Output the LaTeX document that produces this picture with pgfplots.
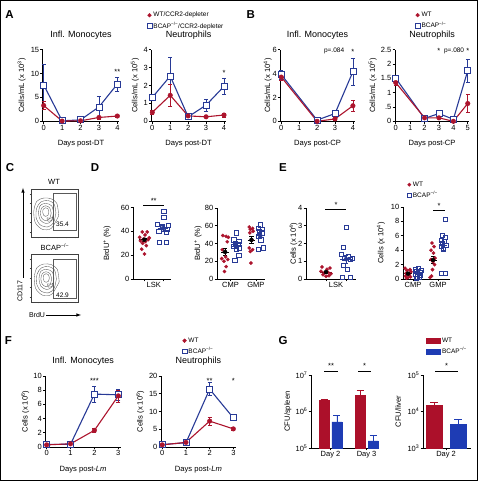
\documentclass[border=0pt]{standalone}
\usepackage{fontspec}
\setmainfont{Liberation Sans}
\usepackage{pgfplots}
\pgfplotsset{compat=1.18}
\definecolor{wtred}{RGB}{172,20,45}
\definecolor{kob}{RGB}{40,58,150}
\definecolor{barred}{RGB}{172,16,42}
\definecolor{barblue}{RGB}{30,60,180}
\newcommand{\ko}{BCAP\textsuperscript{−/−}}
\newcommand{\fs}[1]{\fontsize{#1}{#1}\selectfont}
\pgfplotsset{
  base/.style={scale only axis, anchor=south west, clip=false,
    axis x line*=bottom, axis y line*=left,
    axis line style={-, line width=0.7pt, black},
    tick align=outside, major tick length=2.5pt,
    tick style={line width=0.6pt, black},
    ticklabel style={font=\fs{7.5}, inner sep=1pt},
    /pgf/number format/assume math mode=true,
    title style={font=\fs{9}, at={(0.5,1)}, anchor=south, inner sep=1pt, yshift=3pt},
    every axis x label/.style={at={(axis description cs:0.5,0)}, anchor=center, yshift=-22.5pt, font=\fs{7.6}},
    legend cell align=left,
    legend image code/.code={\draw[mark repeat=2,mark phase=2,##1] plot coordinates {(0pt,0pt)(3pt,0pt)(6pt,0pt)};},
  },
  ylab/.style={every axis y label/.style={at={(axis description cs:#1,0.5)}, rotate=90, anchor=center, font=\fs{7.6}}},
  leg/.style 2 args={legend style={at={(axis description cs:#1,#2)}, anchor=north west, draw=none, fill=none, font=\fs{6.5}, inner sep=0pt, row sep=1pt, nodes={inner sep=1.5pt}}},
  wtl/.style={wtred, line width=1.1pt, mark=*, mark size=2.3pt, mark options={solid, fill=wtred, draw=wtred, line width=0.4pt},
    error bars/.cd, y dir=both, y explicit, error bar style={line width=0.6pt, wtred}, error mark options={rotate=90, mark size=2pt, line width=0.6pt, wtred}},
  kol/.style={kob, line width=1.1pt, mark=square*, mark size=3pt, mark options={solid, fill=white, draw=kob, line width=0.8pt},
    error bars/.cd, y dir=both, y explicit, error bar style={line width=0.6pt, kob}, error mark options={rotate=90, mark size=2pt, line width=0.6pt, kob}},
  wtd/.style={only marks, mark=*, mark size=1.7pt, wtred, mark options={fill=wtred, draw=wtred, line width=0.3pt}},
  kos/.style={only marks, mark=square, mark size=2.1pt, kob, mark options={line width=0.7pt}},
  semk/.style={only marks, mark=none, #1, error bars/.cd, y dir=both, y explicit, error bar style={line width=0.7pt, #1}, error mark options={rotate=90, mark size=2.2pt, line width=0.7pt, #1}},
  meank/.style={#1, line width=0.8pt, mark=none},
  flow/.style={scale only axis, anchor=south west, width=47pt, height=48pt, xmin=0, xmax=10, ymin=0, ymax=10, clip=false,
    axis line style={line width=0.6pt, black!75}, tick align=outside, major tick length=1.5pt,
    tick style={line width=0.4pt, black!75}, xtick={1.5,3.5,5.5,7.5,9.5}, ytick={1,3,5,7,9},
    xticklabels={}, yticklabels={}, tick pos=left},
  cont/.style={gray!70!black, line width=0.35pt, smooth, mark=none},
}
\tikzset{st/.style={font=\fs{7.5}, inner sep=0pt}, lt/.style={font=\bfseries\fs{11.5}}}
\begin{document}
\begin{tikzpicture}[x=1pt,y=1pt]
\useasboundingbox (0,0) rectangle (478,481);
\draw[line width=1pt] (0.5,0.5) rectangle (477.5,480.5);
% panel letters
\node[lt] at (9.5,466) {A};
\node[lt] at (250.7,466) {B};
\node[lt] at (10,313) {C};
\node[lt] at (95,313) {D};
\node[lt] at (283,313) {E};
\node[lt] at (8.5,140) {F};
\node[lt] at (283,140) {G};

% ---------------- A1
\begin{axis}[base, ylab=-0.276, at={(42.8pt,359.7pt)}, width=76.4pt, height=71.7pt,
  xmin=-0.05, xmax=4.1, ymin=0, ymax=15, xtick={0,1,2,3,4}, ytick={0,5,10,15},
  title={Infl. Monocytes}, xlabel={Days post-DT}, ylabel={Cells/mL (x 10\textsuperscript{3})}]
\addplot[kol] coordinates {(0,7.6) +- (0,4.4) (1,0.1) +- (0,0.1) (2,0.3) +- (0,0.2) (3,3.0) +- (0,2.3) (4,7.8) +- (0,1.5)};
\addplot[wtl] coordinates {(0,3.3) +- (0,0.8) (1,0.05) +- (0,0.05) (2,0.1) +- (0,0.1) (3,0.8) +- (0,0.3) (4,1.1) +- (0,0.2)};
\node[st] at (axis cs:4,10.3) {**};
\end{axis}
% ---------------- A2
\begin{axis}[base, ylab=-0.22, at={(151.4pt,359.7pt)}, width=74.4pt, height=71.7pt,
  xmin=-0.05, xmax=4.1, ymin=0, ymax=4, xtick={0,1,2,3,4}, ytick={0,1,2,3,4},
  title={Neutrophils}, xlabel={Days post-DT}, ylabel={Cells/mL (x 10\textsuperscript{5})},
  leg={-0.06}{1.546}]
\addlegendimage{only marks, mark=*, mark size=1.9pt, wtred}
\addlegendimage{only marks, mark=square, mark size=2.4pt, kob, mark options={line width=0.6pt}}
\addplot[kol] coordinates {(0,1.33) +- (0,0.1) (1,2.52) +- (0,1.05) (2,0.25) +- (0,0.05) (3,0.9) +- (0,0.35) (4,1.95) +- (0,0.45)};
\addplot[wtl] coordinates {(0,0.5) +- (0,0.1) (1,1.45) +- (0,0.6) (2,0.3) +- (0,0.05) (3,0.25) +- (0,0.05) (4,0.35) +- (0,0.1)};
\node[st] at (axis cs:4,2.7) {*};
\legend{WT/CCR2-depleter, \ko/CCR2-depleter}
\end{axis}
% ---------------- B1
\begin{axis}[base, ylab=-0.17, at={(280.4pt,359.7pt)}, width=74.3pt, height=71.7pt,
  xmin=-0.05, xmax=4.1, ymin=0, ymax=6, xtick={0,1,2,3,4}, ytick={0,2,4,6},
  title={Infl. Monocytes}, xlabel={Days post-CP}, ylabel={Cells/mL (x 10\textsuperscript{4})}]
\addplot[kol] coordinates {(0,3.9) +- (0,0.4) (2,0.1) +- (0,0.1) (3,0.65) +- (0,0.1) (4,4.15) +- (0,1.15)};
\addplot[wtl] coordinates {(0,3.7) +- (0,0.3) (2,0.0) +- (0,0.05) (3,0.2) +- (0,0.1) (4,1.3) +- (0,0.45)};
\node[font=\fs{6.5}, inner sep=0pt] at (axis cs:2.95,5.9) {p=.084};
\node[st] at (axis cs:4,5.8) {*};
\end{axis}
% ---------------- B2
\begin{axis}[base, ylab=-0.30, at={(395pt,359.7pt)}, width=74.2pt, height=71.7pt,
  xmin=-0.05, xmax=5.1, ymin=0, ymax=2.5, xtick={0,1,2,3,4,5}, ytick={0,0.5,1,1.5,2,2.5},
  yticklabels={0,.5,1,1.5,2,2.5},
  title={Neutrophils}, xlabel={Days post-CP}, ylabel={Cells/mL (x 10\textsuperscript{5})},
  leg={0.27}{1.546}]
\addlegendimage{only marks, mark=*, mark size=1.9pt, wtred}
\addlegendimage{only marks, mark=square, mark size=2.4pt, kob, mark options={line width=0.6pt}}
\addplot[kol] coordinates {(0,1.5) +- (0,0.1) (2,0.1) +- (0,0.03) (3,0.27) +- (0,0.05) (4,0.07) +- (0,0.03) (5,1.77) +- (0,0.4)};
\addplot[wtl] coordinates {(0,1.35) +- (0,0.08) (2,0.12) +- (0,0.03) (3,0.12) +- (0,0.03) (4,0.0) +- (0,0.02) (5,0.62) +- (0,0.32)};
\node[st] at (axis cs:3,2.45) {*};
\node[font=\fs{6.5}, inner sep=0pt] at (axis cs:4.05,2.47) {p=.080};
\node[st] at (axis cs:5,2.45) {*};
\legend{WT, \ko}
\end{axis}

% ---------------- C (flow plots)
\node[font=\fs{7.5}] at (54,299) {WT};
\node[font=\fs{7.5}] at (55,234) {\ko};
\begin{axis}[flow, at={(31pt,244pt)}]
\addplot[cont] coordinates {(5.9,4.4)(5.5,7.0)(4.2,8.0)(2.6,8.1)(1.2,7.4)(0.6,5.4)(0.9,3.0)(2.4,1.6)(4.3,1.8)(5.9,4.4)};
\addplot[cont] coordinates {(5.3,5.0)(4.9,6.9)(3.6,7.6)(2.1,7.3)(1.2,6.0)(1.1,4.0)(2.0,2.5)(3.6,2.1)(4.8,3.0)(5.3,5.0)};
\addplot[cont] coordinates {(4.8,5.1)(4.4,6.5)(3.2,7.0)(2.0,6.6)(1.6,5.0)(2.0,3.5)(3.2,2.8)(4.3,3.3)(4.8,5.1)};
\addplot[cont] coordinates {(4.3,5.0)(3.95,6.1)(3.1,6.5)(2.3,6.1)(2.0,5.0)(2.3,3.9)(3.1,3.4)(3.95,3.8)(4.3,5.0)};
\addplot[cont] coordinates {(3.8,5.2)(3.6,5.9)(3.1,6.1)(2.6,5.8)(2.5,5.1)(2.7,4.5)(3.1,4.3)(3.6,4.5)(3.8,5.2)};
\addplot[cont] coordinates {(3.4,4.0)(4.2,3.9)(4.6,4.1)(4.5,3.5)(3.6,3.3)(3.4,4.0)};
\addplot[gray!70!black, line width=0.45pt, mark=none] coordinates {(4.68,1.46)(9.57,1.46)(9.57,9.17)(4.68,9.17)(4.68,1.46)};
\node[font=\fs{6.5}] at (axis cs:6.7,2.7) {35.4};
\end{axis}
\begin{axis}[flow, at={(31pt,179pt)}]
\addplot[cont] coordinates {(6.0,4.2)(5.6,6.8)(4.3,7.8)(2.7,7.9)(1.3,7.2)(0.7,5.2)(1.0,2.8)(2.5,1.4)(4.4,1.6)(6.0,4.2)};
\addplot[cont] coordinates {(5.4,4.8)(5.0,6.7)(3.7,7.4)(2.2,7.1)(1.3,5.8)(1.2,3.8)(2.1,2.3)(3.7,1.9)(4.9,2.8)(5.4,4.8)};
\addplot[cont] coordinates {(4.9,4.9)(4.5,6.3)(3.3,6.8)(2.1,6.4)(1.7,4.8)(2.1,3.3)(3.3,2.6)(4.4,3.1)(4.9,4.9)};
\addplot[cont] coordinates {(4.4,4.8)(4.05,5.9)(3.2,6.3)(2.4,5.9)(2.1,4.8)(2.4,3.7)(3.2,3.2)(4.05,3.6)(4.4,4.8)};
\addplot[cont] coordinates {(3.9,5.0)(3.7,5.7)(3.2,5.9)(2.7,5.6)(2.6,4.9)(2.8,4.3)(3.2,4.1)(3.7,4.3)(3.9,5.0)};
\addplot[cont] coordinates {(3.5,3.8)(4.3,3.7)(4.7,3.9)(4.6,3.3)(3.7,3.1)(3.5,3.8)};
\addplot[gray!70!black, line width=0.45pt, mark=none] coordinates {(4.68,0.83)(9.57,0.83)(9.57,8.96)(4.68,8.96)(4.68,0.83)};
\node[font=\fs{6.5}] at (axis cs:6.7,1.5) {42.9};
\end{axis}
\draw[line width=0.6pt, -latex] (23,203) -- (23,293);
\node[font=\fs{7}, rotate=90] at (20,190) {CD117};
\node[font=\fs{7}] at (37,166) {BrdU};
\draw[line width=0.6pt, -latex] (46,166) -- (81,166);

% ---------------- D1
\begin{axis}[base, ylab=-0.686, at={(133pt,202pt)}, width=37.9pt, height=71.5pt,
  xmin=0.38, xmax=2.43, ymin=0, ymax=60, ytick={0,20,40,60},
  xtick={1,2}, xticklabels={,}, extra x ticks={1.5}, extra x tick labels={LSK},
  extra x tick style={major tick style={draw=none}},
  ylabel={BrdU\textsuperscript{+} (\%)}]
\addplot[wtd] coordinates {(0.88,39.5)(1.15,39.5)(1.03,37)(0.74,35)(1.26,34.5)(0.94,33.5)(1.2,33)(0.78,32)(1.05,31.5)(0.9,30)(1.1,28)(0.85,25)(1.0,21)};
\addplot[kos] coordinates {(2.05,57)(2.05,51.5)(1.7,46)(2.3,45)(1.95,44)(2.25,41.7)(1.78,40)(2.2,39)(1.82,31)(2.18,31)};
\addplot[meank=black] coordinates {(0.72,33)(1.28,33)};
\addplot[semk=black] coordinates {(1,33) +- (0,1.5)};
\addplot[meank=kob] coordinates {(1.72,42.6)(2.28,42.6)};
\addplot[semk=kob] coordinates {(2,42.6) +- (0,2.5)};
\draw[line width=0.6pt] (axis cs:0.94,62) -- (axis cs:2.05,62);
\node[st] at (axis cs:1.5,65.5) {**};
\end{axis}
% ---------------- D2
\begin{axis}[base, ylab=-0.394, at={(217pt,202pt)}, width=48.2pt, height=71pt,
  xmin=0.27, xmax=4.65, ymin=0, ymax=80, ytick={0,20,40,60,80},
  xtick={1.5,3.8}, xticklabels={CMP,GMP},
  ylabel={BrdU\textsuperscript{+} (\%)}]
\addplot[wtd] coordinates {(0.8,49)(1.1,48)(1.3,47)(1.2,42)(0.75,33)(1.05,25)(0.7,23)(1.25,22)(0.9,20)(1.1,14)(0.95,8.5)};
\addplot[kos] coordinates {(2.05,52)(1.8,44)(2.25,42.5)(1.95,40.6)(2.2,38.7)(1.75,37)(2.3,35)(2.0,33)(2.25,27)(1.9,21)};
\addplot[wtd] coordinates {(3.2,58.6)(3.5,57)(3.3,56)(3.55,53.8)(3.25,52)(3.45,44)(3.2,35)(3.5,33)(3.3,31)(3.35,18)};
\addplot[kos] coordinates {(4.2,61)(4.0,57.5)(4.4,55.6)(4.1,53.8)(4.35,52)(4.0,48)(4.25,44)(4.45,35)(4.05,33)};
\addplot[meank=black] coordinates {(0.65,30.5)(1.35,30.5)};
\addplot[semk=black] coordinates {(1,30.5) +- (0,4)};
\addplot[meank=kob] coordinates {(1.65,37)(2.35,37)};
\addplot[semk=kob] coordinates {(2,37) +- (0,2.7)};
\addplot[meank=black] coordinates {(3.05,44)(3.75,44)};
\addplot[semk=black] coordinates {(3.4,44) +- (0,4)};
\addplot[meank=kob] coordinates {(3.85,49)(4.55,49)};
\addplot[semk=kob] coordinates {(4.2,49) +- (0,3)};
\end{axis}
% ---------------- E1
\begin{axis}[base, ylab=-0.25, at={(306pt,202pt)}, width=50pt, height=71pt,
  xmin=0, xmax=2.5, ymin=0, ymax=4, ytick={0,1,2,3,4},
  xtick={1,2}, xticklabels={,}, extra x ticks={1.5}, extra x tick labels={LSK},
  extra x tick style={major tick style={draw=none}},
  ylabel={Cells (x 10\textsuperscript{4})}]
\addplot[wtd] coordinates {(0.8,0.68)(1.2,0.62)(1.05,0.55)(0.75,0.43)(1.1,0.38)(0.9,0.34)(1.25,0.3)(0.85,0.24)(1.15,0.19)(1.0,0.15)};
\addplot[kos] coordinates {(2.0,2.93)(1.85,1.8)(1.75,1.4)(2.1,1.28)(2.3,1.18)(1.9,1.15)(2.2,1.09)(1.85,0.75)(2.05,0.53)(1.8,0.11)(2.2,0.09)};
\addplot[meank=black] coordinates {(0.72,0.39)(1.28,0.39)};
\addplot[semk=black] coordinates {(1,0.39) +- (0,0.055)};
\addplot[meank=kob] coordinates {(1.72,1.12)(2.28,1.12)};
\addplot[semk=kob] coordinates {(2,1.12) +- (0,0.22)};
\draw[line width=0.6pt] (axis cs:0.95,3.9) -- (axis cs:2.0,3.9);
\node[st] at (axis cs:1.5,4.15) {*};
\end{axis}
% ---------------- E2
\begin{axis}[base, ylab=-0.47, at={(403pt,202pt)}, width=47pt, height=72pt,
  xmin=0.5, xmax=5.2, ymin=0, ymax=10, ytick={0,2,4,6,8,10},
  xtick={1.5,4}, xticklabels={CMP,GMP},
  ylabel={Cells (x 10\textsuperscript{4})}, leg={0.085}{1.375}]
\addlegendimage{only marks, mark=*, mark size=1.7pt, wtred}
\addlegendimage{only marks, mark=square, mark size=2.1pt, kob, mark options={line width=0.6pt}}
\addplot[wtd] coordinates {(0.7,1.5)(1.2,1.3)(0.9,1.2)(1.3,1.0)(0.8,0.8)(1.1,0.6)(0.75,0.4)(1.25,0.3)(1.0,0.2)(0.85,0.1)};
\addplot[kos] coordinates {(2.0,1.5)(1.7,1.35)(2.3,1.2)(1.85,1.05)(2.2,0.9)(1.75,0.7)(2.25,0.5)(1.9,0.3)(2.1,0.2)(1.8,0.1)};
\addplot[wtd] coordinates {(3.4,5.0)(3.6,4.5)(3.3,4.0)(3.55,3.6)(3.7,2.9)(3.3,2.7)(3.5,2.4)(3.65,2.0)(3.45,1.3)(3.35,0.4)(3.2,0.2)};
\addplot[kos] coordinates {(4.7,8.3)(4.4,6.1)(4.75,5.8)(4.3,5.4)(4.6,5.2)(4.45,5.0)(4.8,4.7)(4.35,4.5)(4.55,4.1)(4.35,0.75)(4.75,0.75)};
\addplot[meank=black] coordinates {(0.6,0.74)(1.4,0.74)};
\addplot[semk=black] coordinates {(1,0.74) +- (0,0.15)};
\addplot[meank=kob] coordinates {(1.6,0.8)(2.4,0.8)};
\addplot[semk=kob] coordinates {(2,0.8) +- (0,0.15)};
\addplot[meank=black] coordinates {(3.1,2.64)(3.9,2.64)};
\addplot[semk=black] coordinates {(3.5,2.64) +- (0,0.45)};
\addplot[meank=kob] coordinates {(4.1,4.6)(4.9,4.6)};
\addplot[semk=kob] coordinates {(4.5,4.6) +- (0,0.65)};
\draw[line width=0.6pt] (axis cs:3.5,9.6) -- (axis cs:4.7,9.6);
\node[st] at (axis cs:4.1,10.2) {*};
\legend{WT, \ko}
\end{axis}

% ---------------- F1
\begin{axis}[base, ylab=-0.27, at={(45.5pt,34pt)}, width=75.2pt, height=71pt,
  xmin=-0.05, xmax=3.1, ymin=0, ymax=10, xtick={0,1,2,3}, ytick={0,2,4,6,8,10},
  title={Infl. Monocytes}, xlabel={Days post-\textit{Lm}}, ylabel={Cells (x 10\textsuperscript{6})}]
\addplot[kol] coordinates {(0,0.35) +- (0,0.1) (1,0.4) +- (0,0.1) (2,7.45) +- (0,1.1) (3,7.35) +- (0,0.8)};
\addplot[wtl] coordinates {(0,0.3) +- (0,0.1) (1,0.45) +- (0,0.1) (2,2.35) +- (0,0.3) (3,7.2) +- (0,0.85)};
\node[st] at (axis cs:2,9.3) {***};
\end{axis}
% ---------------- F2
\begin{axis}[base, ylab=-0.28, at={(161.1pt,34pt)}, width=74.6pt, height=71pt,
  xmin=-0.05, xmax=3.1, ymin=0, ymax=20, xtick={0,1,2,3}, ytick={0,5,10,15,20},
  title={Neutrophils}, xlabel={Days post-\textit{Lm}}, ylabel={Cells (x 10\textsuperscript{6})},
  leg={0.28}{1.563}]
\addlegendimage{only marks, mark=*, mark size=1.9pt, wtred}
\addlegendimage{only marks, mark=square, mark size=2.4pt, kob, mark options={line width=0.6pt}}
\addplot[kol] coordinates {(0,0.7) +- (0,0.3) (1,1.2) +- (0,0.3) (2,16.3) +- (0,1.8) (3,8.2) +- (0,0.6)};
\addplot[wtl] coordinates {(0,0.6) +- (0,0.3) (1,1.3) +- (0,0.3) (2,7.3) +- (0,1.2) (3,5.1) +- (0,0.4)};
\node[st] at (axis cs:2,18.6) {**};
\node[st] at (axis cs:3,18.6) {*};
\legend{WT, \ko}
\end{axis}

% ---------------- G1
\begin{axis}[base, ylab=-0.35, at={(311.1pt,33pt)}, width=66.2pt, height=73pt,
  xmin=0, xmax=5.13, ymode=log, ymin=1e5, ymax=1e7, log origin=infty,
  ytick={1e5,1e6,1e7}, yticklabels={10\textsuperscript{5},10\textsuperscript{6},10\textsuperscript{7}},
  minor y tick style={draw=none},
  xtick={1.5,4.3}, xticklabels={Day 2,Day 3},
  ylabel={CFU/spleen}]
\addplot[ybar, bar width=10pt, bar shift=0pt, fill=barred, draw=barred,
  error bars/.cd, y dir=plus, y explicit, error bar style={line width=0.7pt, barred}, error mark options={rotate=90, mark size=3.5pt, line width=0.7pt, barred}]
  coordinates {(1,2.05e6) +- (0,1.5e5) (3.8,2.8e6) +- (0,1.0e6)};
\addplot[ybar, bar width=10pt, bar shift=0pt, fill=barblue, draw=barblue,
  error bars/.cd, y dir=plus, y explicit, error bar style={line width=0.7pt, barblue}, error mark options={rotate=90, mark size=3.5pt, line width=0.7pt, barblue}]
  coordinates {(2,5.2e5) +- (0,2.8e5) (4.8,1.56e5) +- (0,0.64e5)};
\draw[line width=0.6pt] (axis cs:1,1.28e7) -- (axis cs:2.1,1.28e7);
\node[st] at (axis cs:1.55,1.75e7) {**};
\draw[line width=0.6pt] (axis cs:3.65,1.28e7) -- (axis cs:4.65,1.28e7);
\node[st] at (axis cs:4.15,1.75e7) {*};
\end{axis}
% ---------------- G2
\begin{axis}[base, ylab=-0.52, at={(423pt,33pt)}, width=48pt, height=73pt,
  xmin=0.54, xmax=2.54, ymode=log, ymin=1e3, ymax=1e5, log origin=infty,
  ytick={1e3,1e4,1e5}, yticklabels={10\textsuperscript{3},10\textsuperscript{4},10\textsuperscript{5}},
  minor y tick style={draw=none},
  xtick={1.5}, xticklabels={Day 2},
  ylabel={CFU/liver}, leg={0.0625}{1.534},
  legend image code/.code={\draw[#1] (0pt,-2.5pt) rectangle (14pt,2.5pt);}]
\addlegendimage{fill=barred, draw=barred}
\addlegendimage{fill=barblue, draw=barblue}
\addplot[ybar, bar width=16pt, bar shift=0pt, fill=barred, draw=barred,
  error bars/.cd, y dir=plus, y explicit, error bar style={line width=0.7pt, barred}, error mark options={rotate=90, mark size=4pt, line width=0.7pt, barred}]
  coordinates {(1,1.46e4) +- (0,0.29e4)};
\addplot[ybar, bar width=16pt, bar shift=0pt, fill=barblue, draw=barblue,
  error bars/.cd, y dir=plus, y explicit, error bar style={line width=0.7pt, barblue}, error mark options={rotate=90, mark size=4pt, line width=0.7pt, barblue}]
  coordinates {(2,4.6e3) +- (0,1.4e3)};
\draw[line width=0.6pt] (axis cs:1.04,1.28e5) -- (axis cs:2.0,1.28e5);
\node[st] at (axis cs:1.52,1.75e5) {*};
\legend{WT, \ko}
\end{axis}
\end{tikzpicture}
\end{document}
